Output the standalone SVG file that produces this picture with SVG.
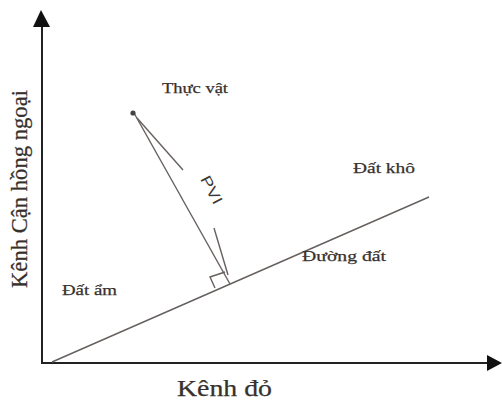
<svg xmlns="http://www.w3.org/2000/svg" width="502" height="401" viewBox="0 0 502 401">
<style>
.lbl{font-family:"Liberation Serif","Times New Roman",serif;fill:#37312d;stroke:#37312d;stroke-width:0.25}
.axis{stroke:#222;stroke-width:2;fill:none}
.thin{stroke:#66605e;stroke-width:1.4;fill:none}
</style>
<rect width="502" height="401" fill="#fff"/>
<g id="connectors">
  <line class="axis" x1="42" y1="364" x2="42" y2="24"/>
  <polygon points="41,10 33,27 50,27" fill="#111"/>
  <line class="axis" x1="41" y1="363" x2="489" y2="363"/>
  <polygon points="502,363 487,355 487,371" fill="#111"/>
  <line class="thin" x1="52" y1="362" x2="429" y2="197"/>
  <line class="thin" x1="134" y1="113" x2="230" y2="284"/>
  <line class="thin" x1="137" y1="118" x2="183" y2="170"/>
  <line class="thin" x1="214" y1="228" x2="228" y2="275"/>
  <polyline class="thin" points="215,288 210,277 225,272"/>
</g>
<g id="plant">
  <circle cx="133" cy="113" r="2.6" fill="#444"/>
  <text class="lbl" x="162" y="93" font-size="15" textLength="66" lengthAdjust="spacingAndGlyphs">Thực vật</text>
</g>
<g id="pvi">
  <text x="0" y="0" transform="translate(200,179) rotate(62)" font-family="Liberation Sans, Arial, sans-serif" font-size="15" fill="#3d3835" textLength="30" lengthAdjust="spacingAndGlyphs">PVI</text>
</g>
<g id="dat-kho"><text class="lbl" x="353" y="173" font-size="15.5" textLength="62" lengthAdjust="spacingAndGlyphs">Đất khô</text></g>
<g id="duong-dat"><text class="lbl" x="302" y="261" font-size="15.5" textLength="84" lengthAdjust="spacingAndGlyphs">Đường đất</text></g>
<g id="dat-am"><text class="lbl" x="62" y="295" font-size="15.5" textLength="55" lengthAdjust="spacingAndGlyphs">Đất ẩm</text></g>
<g id="x-label"><text class="lbl" x="177" y="396" font-size="23" textLength="95" lengthAdjust="spacingAndGlyphs">Kênh đỏ</text></g>
<g id="y-label"><text class="lbl" transform="translate(27,288) rotate(-90)" font-size="23" textLength="198" lengthAdjust="spacingAndGlyphs">Kênh Cận hồng ngoại</text></g>
</svg>
